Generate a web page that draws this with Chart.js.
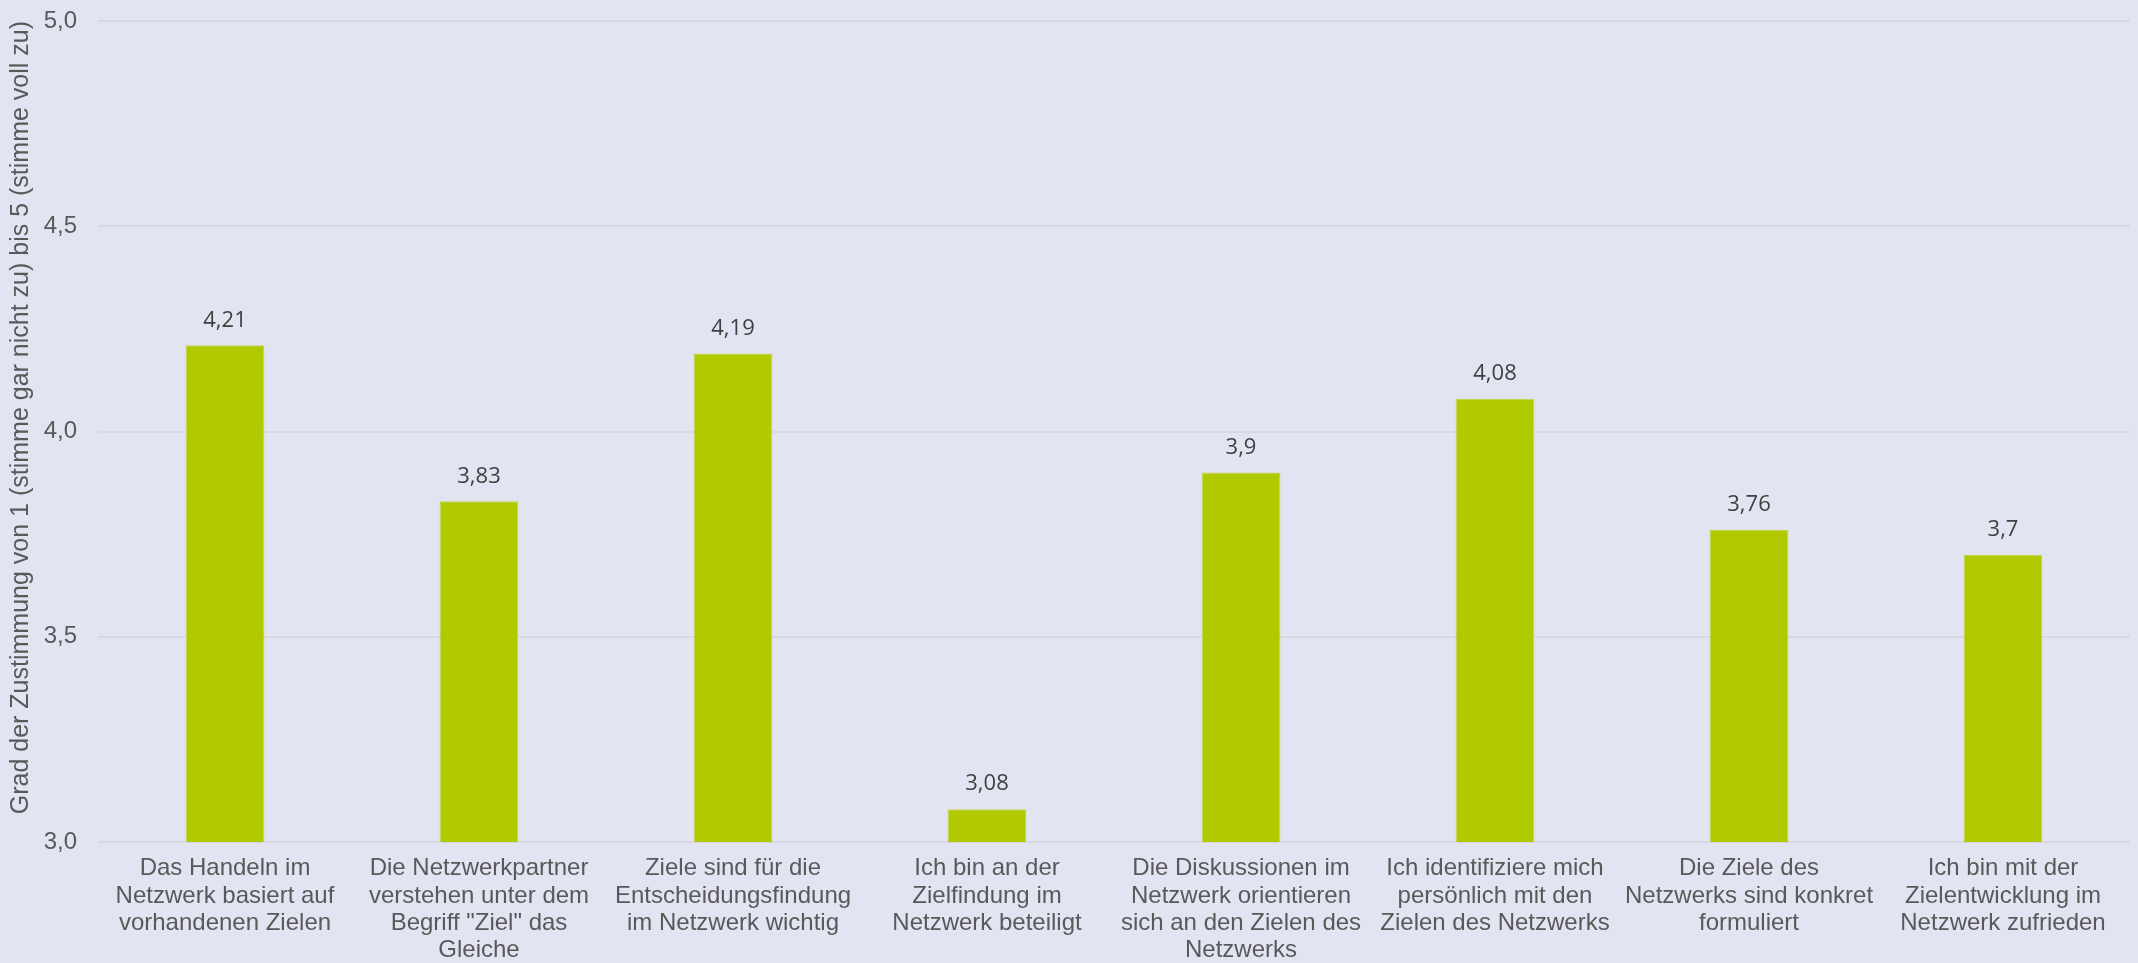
<!DOCTYPE html>
<html>
<head>
<meta charset="utf-8">
<script src="https://cdn.jsdelivr.net/npm/chart.js@4/dist/chart.umd.min.js"></script>
<style>
  html, body { margin: 0; padding: 0; background: #e2e4f1; }
  #wrap { width: 2138px; height: 963px; }
</style>
</head>
<body>
<div id="wrap"><canvas id="grafico" width="2138" height="963"></canvas></div>
<script>
// Kategorien (x-Achse), mehrzeilig
const kategorien = [
  ["Das Handeln im", "Netzwerk basiert auf", "vorhandenen Zielen"],
  ["Die Netzwerkpartner", "verstehen unter dem", "Begriff \"Ziel\" das", "Gleiche"],
  ["Ziele sind für die", "Entscheidungsfindung", "im Netzwerk wichtig"],
  ["Ich bin an der", "Zielfindung im", "Netzwerk beteiligt"],
  ["Die Diskussionen im", "Netzwerk orientieren", "sich an den Zielen des", "Netzwerks"],
  ["Ich identifiziere mich", "persönlich mit den", "Zielen des Netzwerks"],
  ["Die Ziele des", "Netzwerks sind konkret", "formuliert"],
  ["Ich bin mit der", "Zielentwicklung im", "Netzwerk zufrieden"]
];
const mittelwerte = [4.21, 3.83, 4.19, 3.08, 3.9, 4.08, 3.76, 3.7];
const yTicks = [3.0, 3.5, 4.0, 4.5, 5.0];
const yTitel = "Grad der Zustimmung von 1 (stimme gar nicht zu) bis 5 (stimme voll zu)";

const sans = "'Liberation Sans', Arial, sans-serif";

// Werte über den Balken
const wertLabels = {
  id: 'wertLabels',
  afterDatasetsDraw(chart) {
    const ctx = chart.ctx;
    const meta = chart.getDatasetMeta(0);
    ctx.save();
    ctx.font = "22px 'Open Sans', 'Noto Sans', sans-serif";
    ctx.fillStyle = '#404040';
    ctx.textAlign = 'center';
    ctx.textBaseline = 'middle';
    meta.data.forEach((bar, i) => {
      const txt = String(mittelwerte[i]).replace('.', ',');
      ctx.fillText(txt, bar.x, bar.y - 25);
    });
    ctx.restore();
  }
};

const ctx = document.getElementById("grafico").getContext('2d');
new Chart(ctx, {
  type: 'bar',
  data: {
    labels: kategorien,
    datasets: [{
      data: mittelwerte,
      backgroundColor: '#b0c900',
      borderColor: '#c3d64a',
      borderWidth: 1,
      barPercentage: 0.31,
      categoryPercentage: 1
    }]
  },
  options: {
    responsive: false,
    animation: false,
    layout: { padding: { top: 21, right: 8, left: 0, bottom: 0 } },
    plugins: {
      legend: { display: false },
      tooltip: { enabled: false }
    },
    scales: {
      x: {
        grid: { display: false },
        border: { display: false },
        ticks: {
          color: '#595959',
          font: { family: sans, size: 24, lineHeight: 1.14 },
          padding: 5,
          maxRotation: 0,
          autoSkip: false
        },
        afterFit(scale) { scale.height = 121; }
      },
      y: {
        min: 3,
        max: 5,
        afterBuildTicks(scale) { scale.ticks = yTicks.map(v => ({ value: v })); },
        grid: { color: '#d8d9e0', lineWidth: 2, drawTicks: false },
        border: { display: false },
        ticks: {
          color: '#595959',
          font: { family: sans, size: 24 },
          padding: 21,
          callback: v => v.toFixed(1).replace('.', ',')
        },
        title: {
          display: true,
          text: yTitel,
          align: 'end',
          color: '#595959',
          font: { family: sans, size: 25 },
          padding: { top: 6, bottom: 0 }
        },
        afterFit(scale) {
          scale.width = 98;
          scale.paddingTop = 0;
          scale.paddingBottom = 0;
        }
      }
    }
  },
  plugins: [wertLabels]
});
</script>
</body>
</html>
